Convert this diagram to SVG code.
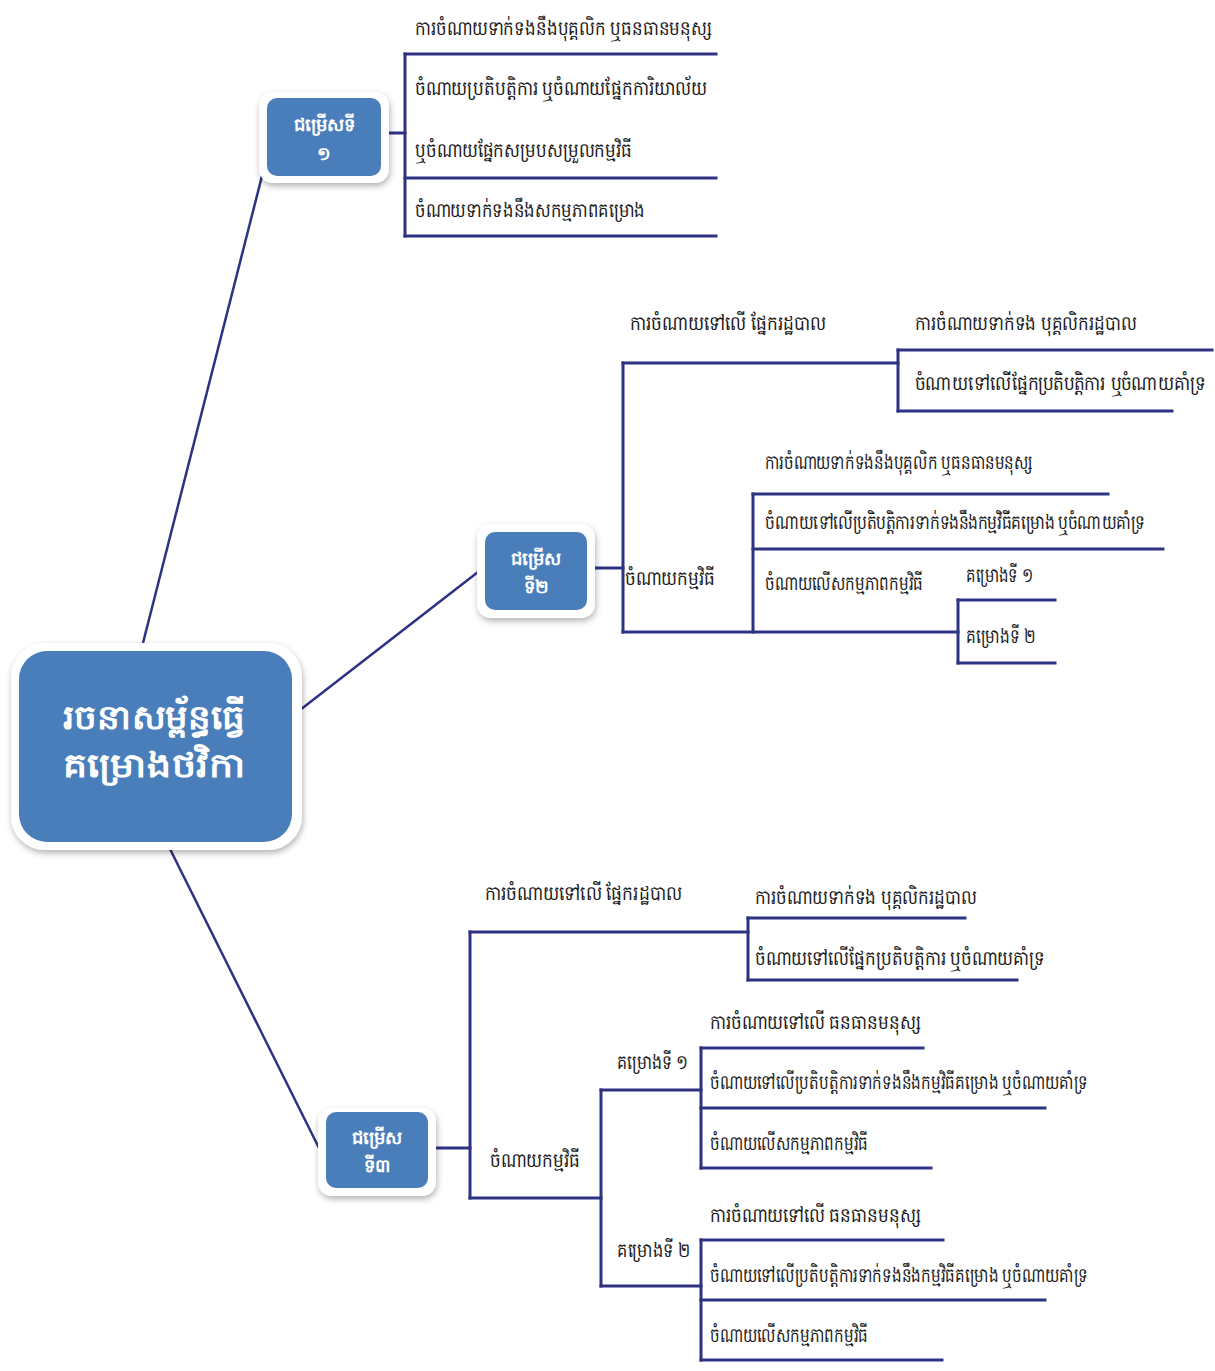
<svg xmlns="http://www.w3.org/2000/svg" width="1215" height="1371" viewBox="0 0 1215 1371">
<defs>
<style>
.ln{stroke:#2E3284;stroke-width:3;fill:none;stroke-linecap:square}
.conn{stroke:#2E3284;stroke-width:2.5;fill:none}
.t{font-family:"Noto Sans","DejaVu Sans",sans-serif;font-size:20px;fill:#1a1a1a}
.bt{font-family:"Noto Sans","DejaVu Sans",sans-serif;font-weight:bold;fill:#ffffff;text-anchor:middle}
.outer{fill:#ffffff;filter:url(#sh)}
.inner{fill:#4A7EBB}
</style>
<filter id="sh" x="-10%" y="-10%" width="130%" height="130%">
<feDropShadow dx="1" dy="3" stdDeviation="3" flood-color="#000" flood-opacity="0.3"/>
</filter>
</defs>
<rect width="1215" height="1371" fill="#ffffff"/>
<g id="connectors">
<line class="conn" x1="143" y1="643" x2="262" y2="176"/>
<line class="conn" x1="300" y1="710" x2="478" y2="572"/>
<line class="conn" x1="170" y1="849" x2="320" y2="1150"/>
<line class="ln" x1="388" y1="133" x2="405" y2="133"/>
<line class="ln" x1="405" y1="54" x2="405" y2="236"/>
<line class="ln" x1="405" y1="54" x2="716" y2="54"/>
<line class="ln" x1="405" y1="178" x2="716" y2="178"/>
<line class="ln" x1="405" y1="236" x2="716" y2="236"/>
<line class="ln" x1="595" y1="568" x2="623" y2="568"/>
<line class="ln" x1="623" y1="363" x2="623" y2="632"/>
<line class="ln" x1="623" y1="363" x2="898" y2="363"/>
<line class="ln" x1="898" y1="350" x2="898" y2="411"/>
<line class="ln" x1="898" y1="350" x2="1212" y2="350"/>
<line class="ln" x1="898" y1="411" x2="1172" y2="411"/>
<line class="ln" x1="623" y1="632" x2="958" y2="632"/>
<line class="ln" x1="753" y1="494" x2="753" y2="632"/>
<line class="ln" x1="753" y1="494" x2="1108" y2="494"/>
<line class="ln" x1="753" y1="549" x2="1163" y2="549"/>
<line class="ln" x1="958" y1="600" x2="958" y2="663"/>
<line class="ln" x1="958" y1="600" x2="1055" y2="600"/>
<line class="ln" x1="958" y1="663" x2="1055" y2="663"/>
<line class="ln" x1="436" y1="1148" x2="470" y2="1148"/>
<line class="ln" x1="470" y1="932" x2="470" y2="1198"/>
<line class="ln" x1="470" y1="932" x2="748" y2="932"/>
<line class="ln" x1="748" y1="918" x2="748" y2="980"/>
<line class="ln" x1="748" y1="918" x2="965" y2="918"/>
<line class="ln" x1="748" y1="980" x2="1017" y2="980"/>
<line class="ln" x1="470" y1="1198" x2="601" y2="1198"/>
<line class="ln" x1="601" y1="1090" x2="601" y2="1286"/>
<line class="ln" x1="601" y1="1090" x2="701" y2="1090"/>
<line class="ln" x1="701" y1="1048" x2="701" y2="1168"/>
<line class="ln" x1="701" y1="1048" x2="923" y2="1048"/>
<line class="ln" x1="701" y1="1108" x2="1045" y2="1108"/>
<line class="ln" x1="701" y1="1168" x2="931" y2="1168"/>
<line class="ln" x1="601" y1="1286" x2="701" y2="1286"/>
<line class="ln" x1="701" y1="1240" x2="701" y2="1360"/>
<line class="ln" x1="701" y1="1240" x2="943" y2="1240"/>
<line class="ln" x1="701" y1="1300" x2="1045" y2="1300"/>
<line class="ln" x1="701" y1="1360" x2="942" y2="1360"/>
</g>
<g id="root">
<rect class="outer" x="11" y="643" width="291" height="207" rx="34"/>
<rect class="inner" x="19" y="651" width="273" height="191" rx="28"/>
<text class="bt" x="154" y="729" font-size="34" textLength="183" lengthAdjust="spacingAndGlyphs">រចនាសម្ព័ន្ធធ្វើ</text>
<text class="bt" x="154" y="777" font-size="34" textLength="183" lengthAdjust="spacingAndGlyphs">គម្រោងថវិកា</text>
</g>
<g id="opt1">
<rect class="outer" x="259" y="92" width="130" height="91" rx="14"/>
<rect class="inner" x="267" y="98" width="114" height="78" rx="10"/>
<text class="bt" x="324" y="131" font-size="18">ជម្រើសទី</text>
<text class="bt" x="324" y="160" font-size="18">១</text>
</g>
<g id="opt2">
<rect class="outer" x="477" y="524" width="118" height="94" rx="14"/>
<rect class="inner" x="485" y="532" width="102" height="78" rx="10"/>
<text class="bt" x="536" y="565" font-size="18">ជម្រើស</text>
<text class="bt" x="536" y="593" font-size="18">ទី២</text>
</g>
<g id="opt3">
<rect class="outer" x="318" y="1108" width="118" height="88" rx="14"/>
<rect class="inner" x="326" y="1112" width="102" height="76" rx="10"/>
<text class="bt" x="377" y="1144" font-size="18">ជម្រើស</text>
<text class="bt" x="377" y="1172" font-size="18">ទី៣</text>
</g>
<g id="b1-labels">
<text class="t" x="415" y="35" textLength="297" lengthAdjust="spacingAndGlyphs">ការចំណាយទាក់ទងនឹងបុគ្គលិក ឬធនធានមនុស្ស</text>
<text class="t" x="415" y="95" textLength="292" lengthAdjust="spacingAndGlyphs">ចំណាយប្រតិបត្តិការ ឬចំណាយផ្នែកការិយាល័យ</text>
<text class="t" x="415" y="157" textLength="217" lengthAdjust="spacingAndGlyphs">ឬចំណាយផ្នែកសម្របសម្រួលកម្មវិធី</text>
<text class="t" x="415" y="217" textLength="230" lengthAdjust="spacingAndGlyphs">ចំណាយទាក់ទងនឹងសកម្មភាពគម្រោង</text>
</g>
<g id="b2-labels">
<text class="t" x="630" y="330" textLength="196" lengthAdjust="spacingAndGlyphs">ការចំណាយទៅលើ ផ្នែករដ្ឋបាល</text>
<text class="t" x="915" y="330" textLength="222" lengthAdjust="spacingAndGlyphs">ការចំណាយទាក់ទង បុគ្គលិករដ្ឋបាល</text>
<text class="t" transform="translate(915,390) scale(0.78,1)" x="0" y="0" textLength="372" lengthAdjust="spacingAndGlyphs">ចំណាយទៅលើផ្នែកប្រតិបត្តិការ ឬចំណាយគាំទ្រ</text>
<text class="t" x="625" y="585" textLength="90" lengthAdjust="spacingAndGlyphs">ចំណាយកម្មវិធី</text>
<text class="t" x="765" y="469" textLength="268" lengthAdjust="spacingAndGlyphs">ការចំណាយទាក់ទងនឹងបុគ្គលិក ឬធនធានមនុស្ស</text>
<text class="t" transform="translate(765,529) scale(0.78,1)" x="0" y="0" textLength="487" lengthAdjust="spacingAndGlyphs">ចំណាយទៅលើប្រតិបត្តិការទាក់ទងនឹងកម្មវិធីគម្រោង ឬចំណាយគាំទ្រ</text>
<text class="t" x="765" y="590" textLength="158" lengthAdjust="spacingAndGlyphs">ចំណាយលើសកម្មភាពកម្មវិធី</text>
<text class="t" x="966" y="582" textLength="67" lengthAdjust="spacingAndGlyphs">គម្រោងទី ១</text>
<text class="t" x="966" y="643" textLength="69" lengthAdjust="spacingAndGlyphs">គម្រោងទី ២</text>
</g>
<g id="b3-labels">
<text class="t" x="485" y="900" textLength="197" lengthAdjust="spacingAndGlyphs">ការចំណាយទៅលើ ផ្នែករដ្ឋបាល</text>
<text class="t" x="755" y="904" textLength="222" lengthAdjust="spacingAndGlyphs">ការចំណាយទាក់ទង បុគ្គលិករដ្ឋបាល</text>
<text class="t" x="755" y="965" textLength="290" lengthAdjust="spacingAndGlyphs">ចំណាយទៅលើផ្នែកប្រតិបត្តិការ ឬចំណាយគាំទ្រ</text>
<text class="t" x="490" y="1167" textLength="90" lengthAdjust="spacingAndGlyphs">ចំណាយកម្មវិធី</text>
<text class="t" x="617" y="1069" textLength="71" lengthAdjust="spacingAndGlyphs">គម្រោងទី ១</text>
<text class="t" x="710" y="1029" textLength="211" lengthAdjust="spacingAndGlyphs">ការចំណាយទៅលើ ធនធានមនុស្ស</text>
<text class="t" x="710" y="1089" textLength="378" lengthAdjust="spacingAndGlyphs">ចំណាយទៅលើប្រតិបត្តិការទាក់ទងនឹងកម្មវិធីគម្រោង ឬចំណាយគាំទ្រ</text>
<text class="t" x="710" y="1150" textLength="158" lengthAdjust="spacingAndGlyphs">ចំណាយលើសកម្មភាពកម្មវិធី</text>
<text class="t" x="617" y="1257" textLength="73" lengthAdjust="spacingAndGlyphs">គម្រោងទី ២</text>
<text class="t" x="710" y="1222" textLength="211" lengthAdjust="spacingAndGlyphs">ការចំណាយទៅលើ ធនធានមនុស្ស</text>
<text class="t" x="710" y="1282" textLength="378" lengthAdjust="spacingAndGlyphs">ចំណាយទៅលើប្រតិបត្តិការទាក់ទងនឹងកម្មវិធីគម្រោង ឬចំណាយគាំទ្រ</text>
<text class="t" x="710" y="1342" textLength="158" lengthAdjust="spacingAndGlyphs">ចំណាយលើសកម្មភាពកម្មវិធី</text>
</g>
</svg>
